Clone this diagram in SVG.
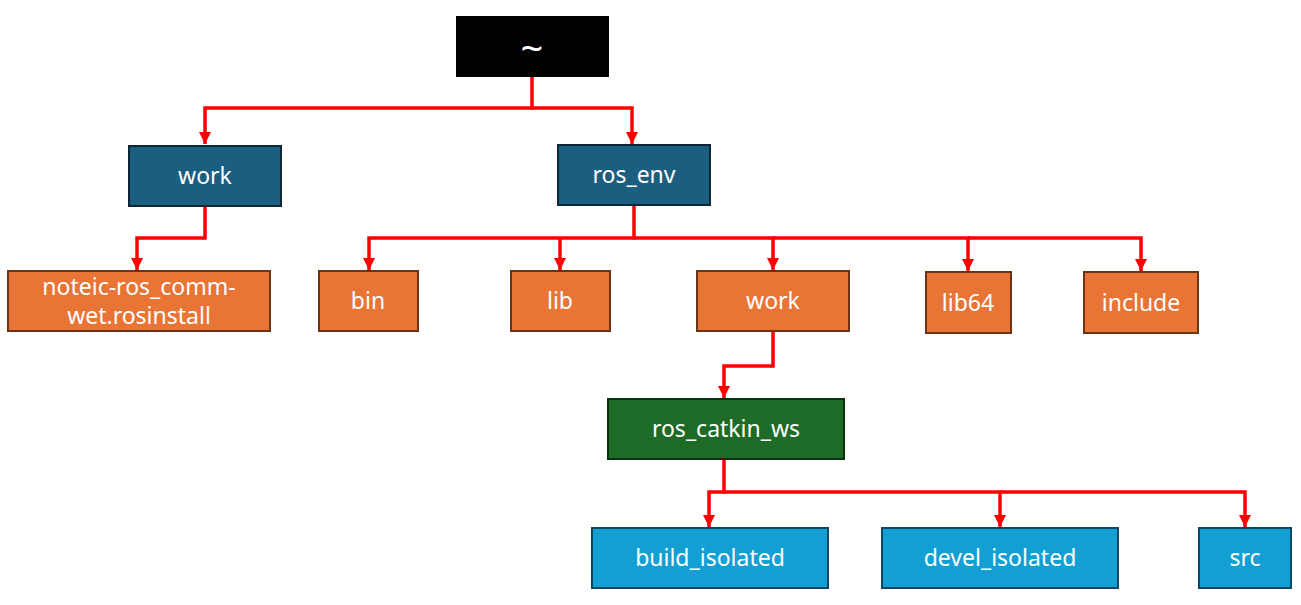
<svg xmlns="http://www.w3.org/2000/svg" width="1301" height="605" viewBox="0 0 1301 605">
<defs>
<marker id="arr" viewBox="0 0 10 10" refX="10" refY="5" markerWidth="3.5" markerHeight="3.5" orient="auto" markerUnits="strokeWidth">
<path d="M0,0 L10,5 L0,10 Z" fill="#ff0000"/>
</marker>
<style>
.t{font-family:"Noto Sans","Open Sans","Liberation Sans",sans-serif;font-size:23px;fill:#ffffff;text-anchor:middle}
.root{fill:#000000}
.blue{fill:#1b5e80;stroke:#0d2638;stroke-width:2}
.orange{fill:#e87435;stroke:#6b3414;stroke-width:2}
.green{fill:#1e6b27;stroke:#0d2e10;stroke-width:2}
.cyan{fill:#129fd4;stroke:#0d4863;stroke-width:2}
.c{fill:none;stroke:#ff0000;stroke-width:3.5;stroke-linejoin:miter}
</style>
</defs>
<rect width="1301" height="605" fill="#ffffff"/>
<g id="connectors">
<path class="c" d="M532,77 V108 H205 V144" marker-end="url(#arr)"/>
<path class="c" d="M532,108 H632 V144" marker-end="url(#arr)"/>
<path class="c" d="M205,206 V238 H137 V270" marker-end="url(#arr)"/>
<path class="c" d="M634,205 V238 H369 V270" marker-end="url(#arr)"/>
<path class="c" d="M560,238 V270" marker-end="url(#arr)"/>
<path class="c" d="M634,238 H773 V270" marker-end="url(#arr)"/>
<path class="c" d="M773,238 H968 V271" marker-end="url(#arr)"/>
<path class="c" d="M968,238 H1141 V271" marker-end="url(#arr)"/>
<path class="c" d="M773,331 V366 H724 V398" marker-end="url(#arr)"/>
<path class="c" d="M724,459 V492 H709 V527" marker-end="url(#arr)"/>
<path class="c" d="M724,492 H1000 V527" marker-end="url(#arr)"/>
<path class="c" d="M1000,492 H1245 V527" marker-end="url(#arr)"/>
</g>
<g id="root"><rect class="root" x="456" y="16" width="153" height="61"/><text class="t" x="532" y="63" style="font-size:40px">~</text></g>
<g id="work1"><rect class="blue" x="129" y="146" width="152" height="60"/><text class="t" x="205" y="184">work</text></g>
<g id="ros_env"><rect class="blue" x="558" y="145" width="152" height="60"/><text class="t" x="634" y="183">ros_env</text></g>
<g id="noteic"><rect class="orange" x="8" y="271" width="262" height="60"/><text class="t" x="139" y="295">noteic-ros_comm-</text><text class="t" x="139" y="324">wet.rosinstall</text></g>
<g id="bin"><rect class="orange" x="319" y="271" width="99" height="60"/><text class="t" x="368" y="309">bin</text></g>
<g id="lib"><rect class="orange" x="511" y="271" width="99" height="60"/><text class="t" x="560" y="309">lib</text></g>
<g id="work2"><rect class="orange" x="697" y="271" width="152" height="60"/><text class="t" x="773" y="309">work</text></g>
<g id="lib64"><rect class="orange" x="926" y="272" width="85" height="61"/><text class="t" x="968" y="311">lib64</text></g>
<g id="include"><rect class="orange" x="1084" y="272" width="114" height="61"/><text class="t" x="1141" y="311">include</text></g>
<g id="ros_catkin_ws"><rect class="green" x="608" y="399" width="236" height="60"/><text class="t" x="726" y="437">ros_catkin_ws</text></g>
<g id="build_isolated"><rect class="cyan" x="592" y="528" width="236" height="60"/><text class="t" x="710" y="566">build_isolated</text></g>
<g id="devel_isolated"><rect class="cyan" x="882" y="528" width="236" height="60"/><text class="t" x="1000" y="566">devel_isolated</text></g>
<g id="src"><rect class="cyan" x="1199" y="528" width="92" height="60"/><text class="t" x="1245" y="566">src</text></g>
</svg>
